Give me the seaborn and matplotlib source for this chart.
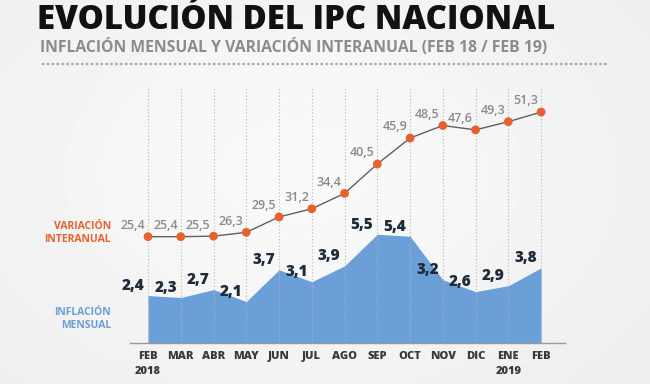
import matplotlib
matplotlib.use("Agg")
import matplotlib.pyplot as plt
import seaborn as sns
import numpy as np
import pandas as pd

# Data
meses = ["FEB\n2018", "MAR", "ABR", "MAY", "JUN", "JUL", "AGO", "SEP", "OCT",
         "NOV", "DIC", "ENE\n2019", "FEB"]
inflacion_mensual = [2.4, 2.3, 2.7, 2.1, 3.7, 3.1, 3.9, 5.5, 5.4, 3.2, 2.6, 2.9, 3.8]
variacion_interanual = [25.4, 25.4, 25.5, 26.3, 29.5, 31.2, 34.4, 40.5, 45.9,
                        48.5, 47.6, 49.3, 51.3]

df = pd.DataFrame({"mes": np.arange(len(meses)),
                   "mensual": inflacion_mensual,
                   "interanual": variacion_interanual})

sns.set_theme(style="white")
plt.rcParams['font.family'] = ['Open Sans', 'DejaVu Sans']

BG = "#eeeeee"
AZUL = "#6a9fd8"
NARANJA = "#e8612c"
GRIS = "#8a8a8a"
OSCURO = "#1f2a3a"

W, H = 650, 384
fig = plt.figure(figsize=(W / 100, H / 100), dpi=100, facecolor=BG)

# soft radial background
bg = fig.add_axes([0, 0, 1, 1], zorder=-10)
yy, xx = np.mgrid[0:H, 0:W]
r2 = ((xx - W * 0.45) / (W * 0.6)) ** 2 + ((yy - H * 0.45) / (H * 0.7)) ** 2
shade = 0.925 + 0.05 * np.exp(-r2 * 1.3)
bg.imshow(shade, cmap="gray", vmin=0, vmax=1, aspect="auto",
          extent=[0, 1, 0, 1], interpolation="bilinear")
bg.axis("off")

# axes from x=130..565, y=88..343 (pixels from top)
ax = fig.add_axes([130 / W, (H - 343) / H, (565 - 130) / W, (343 - 88) / H])
ax.set_facecolor("none")
ax2 = ax.twinx()
ax2.set_facecolor("none")

ax.set_xlim(-0.55, 12.73)
ax.set_ylim(0, 12.9)
ax2.set_ylim(3.3, 56.3)

# area (monthly inflation)
ax.fill_between(df["mes"], 0, df["mensual"], color=AZUL, lw=0, zorder=1)

# dotted vertical guides
for x in df["mes"]:
    ax.axvline(x, color="#b5b5b5", lw=0.8, ls=(0, (1, 2)), zorder=2)

# year-on-year line
sns.lineplot(data=df, x="mes", y="interanual", ax=ax2, color="#606060", lw=1,
             zorder=3, legend=False)
ax2.scatter(df["mes"], df["interanual"], s=40, color=NARANJA, zorder=4,
            edgecolor="none")

for x, v in zip(df["mes"], df["interanual"]):
    ax2.annotate(f"{v:.1f}".replace(".", ","), (x, v), xytext=(-11, 8),
                 textcoords="offset points", ha="center", va="center",
                 fontsize=9, color=GRIS, fontweight="semibold")

for x, v in zip(df["mes"], df["mensual"]):
    ax.annotate(f"{v:.1f}".replace(".", ","), (x, v), xytext=(-11, 7),
                textcoords="offset points", ha="center", va="center",
                fontsize=11, color=OSCURO, fontweight="heavy")

ax.set_xticks(df["mes"])
ax.set_xticklabels(meses, fontsize=8, fontweight="heavy", color="#3a3a3a",
                   linespacing=1.45, va="top")
ax.tick_params(axis="x", length=0, pad=6)
ax.set_yticks([])
ax2.set_yticks([])
ax.set_xlabel("")
ax.set_ylabel("")
ax2.set_xlabel("")
ax2.set_ylabel("")
for a in (ax, ax2):
    for s in a.spines.values():
        s.set_visible(False)
ax.spines["bottom"].set_visible(True)
ax.spines["bottom"].set_color("#9a9a9a")
ax.spines["bottom"].set_linewidth(1)

# side labels
fig.text(111 / W, 1 - 233 / H, "VARIACIÓN\nINTERANUAL", ha="right", va="center",
         fontsize=7.5, fontweight="bold", color=NARANJA, linespacing=1.3)
fig.text(111 / W, 1 - 319 / H, "INFLACIÓN\nMENSUAL", ha="right", va="center",
         fontsize=7.5, fontweight="bold", color=AZUL, linespacing=1.3)

# titles
fig.text(37 / W, 1 - 20 / H, "EVOLUCIÓN DEL IPC NACIONAL", ha="left",
         va="center", fontsize=23.8, fontweight="heavy", color="#111111")
fig.text(40 / W, 1 - 47 / H,
         "INFLACIÓN MENSUAL Y VARIACIÓN INTERANUAL (FEB 18 / FEB 19)",
         ha="left", va="center", fontsize=11.3, fontweight="bold",
         color="#8c8c8c")
fig.add_artist(plt.Line2D([42 / W, 609 / W], [1 - 64 / H, 1 - 64 / H],
                          transform=fig.transFigure, color="#a0a0a0", lw=1.6,
                          ls=(0, (1, 1.2))))

fig.savefig("out.png", dpi=100, facecolor=BG)
